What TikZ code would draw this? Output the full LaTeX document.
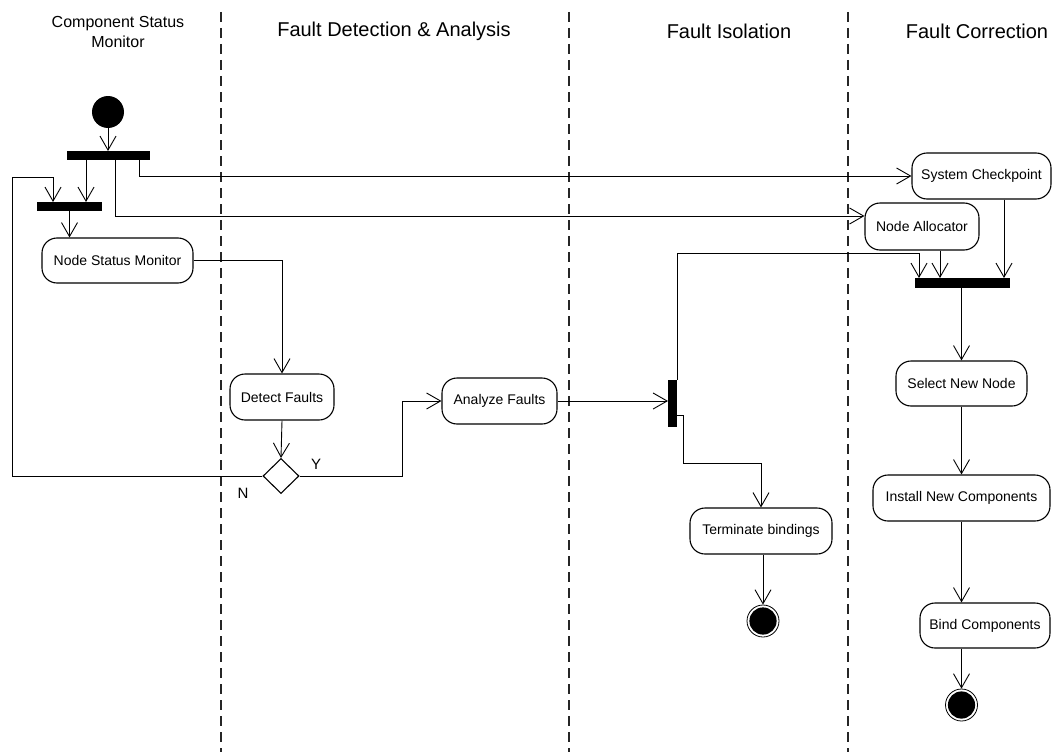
\documentclass[tikz,border=0pt]{standalone}
\usepackage{fontspec}
\setmainfont{Liberation Sans}
\usetikzlibrary{arrows.meta,shapes.geometric}

\begin{document}
\begin{tikzpicture}[x=1pt,y=-1pt,
  line join=miter,
  act/.style={draw=black, line width=1.1pt, rounded corners=15pt, inner sep=0pt,
              font=\fontsize{14}{16}\selectfont},
  barbox/.style={fill=black, inner sep=0pt, outer sep=0pt},
  startc/.style={circle, fill=black, minimum size=32pt, inner sep=0pt},
  endc/.style={circle, draw=black, fill=white, line width=0.8pt, minimum size=32pt, inner sep=0pt,
               path picture={\fill[black] (path picture bounding box.center) circle (13.6pt);}},
  decision/.style={diamond, draw=black, line width=1.1pt, fill=white, inner sep=0pt,
                   minimum width=36pt, minimum height=35pt},
  arr/.style={draw=black, line width=0.9pt, -{Straight Barb[length=14pt,width=16pt]}},
  lane/.style={draw=black!85, line width=1.1pt, dash pattern=on 10pt off 6pt},
  head/.style={font=\fontsize{20}{24}\selectfont, inner sep=0pt},
  yn/.style={font=\fontsize{15}{18}\selectfont, inner sep=0pt}]

\useasboundingbox (0,0) rectangle (1052,752);

% swimlane separators
\draw[lane] (221,12) -- (221,752);
\draw[lane] (569,12) -- (569,752);
\draw[lane] (848,12) -- (848,752);

% lane titles
\node[font=\fontsize{16}{20}\selectfont, align=center, inner sep=0pt] (hcsm) at (118,32)
  {Component Status\\Monitor};
\node[head] (hfda) at (394,31) {Fault Detection \& Analysis};
\node[head] (hfi)  at (729,31) {Fault Isolation};
\node[head] (hfc)  at (977,31) {Fault Correction};

% activities and control nodes
\node[startc] (start) at (108,112) {};
\node[barbox, minimum width=83pt, minimum height=9pt] (fork1) at (108.5,155.5) {};
\node[barbox, minimum width=65pt, minimum height=9pt] (fork2) at (69.5,206.5) {};
\node[act, minimum width=151pt, minimum height=45pt] (nsm) at (117.5,260.5) {Node Status Monitor};
\node[act, minimum width=104pt, minimum height=46pt] (detect) at (282,397) {Detect Faults};
\node[decision] (dec) at (281,476) {};
\node[act, minimum width=115pt, minimum height=46pt] (analyze) at (499.5,401) {Analyze Faults};
\node[barbox, minimum width=9pt, minimum height=47pt] (join3) at (672.5,403.5) {};
\node[act, minimum width=142pt, minimum height=46pt] (term) at (761,531) {Terminate bindings};
\node[endc] (end1) at (763,621) {};
\node[act, minimum width=139pt, minimum height=46pt] (chk) at (981.5,176) {System Checkpoint};
\node[act, minimum width=114pt, minimum height=47pt] (alloc) at (922,226.5) {Node Allocator};
\node[barbox, minimum width=95pt, minimum height=10pt] (join4) at (962.5,283) {};
\node[act, minimum width=131pt, minimum height=45pt] (select) at (961.5,383.5) {Select New Node};
\node[act, minimum width=177pt, minimum height=46pt] (install) at (961.5,498) {Install New Components};
\node[act, minimum width=130pt, minimum height=45pt] (bind) at (985,625.5) {Bind Components};
\node[endc] (end2) at (961.5,705) {};

% guard labels
\node[yn] (lY) at (316,464) {Y};
\node[yn] (lN) at (243,493) {N};

% bend points of the routed flows
\coordinate (bA) at (86,0);
\coordinate (bB) at (115,0);
\coordinate (bC) at (139,0);
\coordinate (loopL) at (12,177);
\coordinate (loopR) at (53,177);
\coordinate (yturn) at (402,0);
\coordinate (retRow) at (0,253);
\coordinate (j4a) at (919,0);
\coordinate (j4b) at (940,0);
\coordinate (j4c) at (1004,0);
\coordinate (tA) at (683,463);

% control flows
\draw[arr] (start.south) -- (start.south |- fork1.north);
\draw[arr] (fork1.south -| bA) -- (fork2.north -| bA);
\draw[arr] (fork1.south -| bC) |- (chk.west);
\draw[arr] (fork1.south -| bB) |- ([yshift=10.5pt]alloc.west);
\draw[arr] (fork2.south) -- (nsm.north -| fork2.south);
\draw[arr] (nsm.east) -| (detect.north);
\draw[arr] (detect.south) -- (dec.north);
\draw[arr] (dec.west) -| (loopL) -- (loopR) -- (fork2.north -| loopR);
\draw[arr] (dec.east) -- (dec.east -| yturn) |- (analyze.west);
\draw[arr] (analyze.east) -- (analyze.east -| join3.west);
\draw[arr] (join3.north east) |- (retRow -| j4a) -- (join4.north -| j4a);
\draw[arr] ([yshift=-11.5pt]join3.east) -| (tA) -| (term.north);
\draw[arr] (end1.north |- term.south) -- (end1.north);
\draw[arr] (alloc.south -| j4b) -- (join4.north -| j4b);
\draw[arr] (chk.south -| j4c) -- (join4.north -| j4c);
\draw[arr] (join4.south -| select.north) -- (select.north);
\draw[arr] (select.south) -- (install.north);
\draw[arr] (install.south) -- (install.south |- bind.north);
\draw[arr] (bind.south -| end2.north) -- (end2.north);

\end{tikzpicture}
\end{document}
